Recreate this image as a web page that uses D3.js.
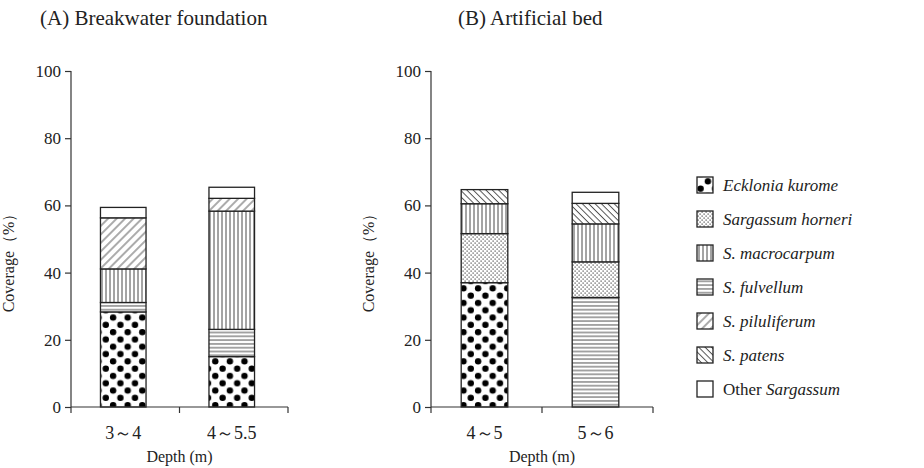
<!DOCTYPE html>
<html lang="en">
<head>
<meta charset="UTF-8">
<title>coverage by depth</title>
<script src="https://cdn.jsdelivr.net/npm/d3@7"></script>
<style>
    body { margin: 0; background: #fff; }
    text { font-family: "Liberation Serif", "DejaVu Serif", serif; fill: #222; }
    .axis path, .axis line { stroke: #333; stroke-width: 1.2; }
</style>
</head>
<body>
<svg id="chart" width="924" height="468"></svg>
<script>
    // legend names (legend order)
    let species = ["Ecklonia kurome", "Sargassum horneri", "S. macrocarpum", "S. fulvellum", "S. piluliferum", "S. patens", "Other"];
    let patternIds = ["dots", "stipple", "vert", "horiz", "fdiag", "bdiag", "blank"];
    // order in which segments stack from the bottom
    let stackOrder = ["Ecklonia kurome", "S. fulvellum", "Sargassum horneri", "S. macrocarpum", "S. piluliferum", "S. patens", "Other"];

    // panel A
    let depthA = ["3～4", "4～5.5"];
    let coverA = {
        "Ecklonia kurome": [28.3, 15.0],
        "Sargassum horneri": [0, 0],
        "S. macrocarpum": [10.0, 35.2],
        "S. fulvellum": [2.8, 8.1],
        "S. piluliferum": [15.2, 3.8],
        "S. patens": [0, 0],
        "Other": [3.1, 3.3]
    };
    // panel B
    let depthB = ["4～5", "5～6"];
    let coverB = {
        "Ecklonia kurome": [37.0, 0],
        "Sargassum horneri": [14.6, 10.6],
        "S. macrocarpum": [8.9, 11.3],
        "S. fulvellum": [0, 32.6],
        "S. piluliferum": [0, 0],
        "S. patens": [4.2, 6.1],
        "Other": [0, 3.3]
    };
    let yTicks = [0, 20, 40, 60, 80, 100];

    let svg = d3.select("#chart");
    let ink = "#222";
    let serif = '"Liberation Serif", "DejaVu Serif", serif';

    // hatch patterns
    let defs = svg.append("defs");
    let p = defs.append("pattern").attr("id", "dots").attr("patternUnits", "userSpaceOnUse")
        .attr("width", 14.6).attr("height", 14.6);
    p.append("rect").attr("width", 14.6).attr("height", 14.6).attr("fill", "#fff");
    [[3.6, 3.6], [10.9, 10.9], [-3.7, 10.9], [18.2, 3.6], [10.9, -3.7], [3.6, 18.2]].forEach(function (c) {
        p.append("circle").attr("cx", c[0]).attr("cy", c[1]).attr("r", 3.2).attr("fill", "#000");
    });

    p = defs.append("pattern").attr("id", "stipple").attr("patternUnits", "userSpaceOnUse")
        .attr("width", 4).attr("height", 4);
    p.append("rect").attr("width", 4).attr("height", 4).attr("fill", "#fff");
    p.append("rect").attr("x", 0.5).attr("y", 0.5).attr("width", 1.2).attr("height", 1.2).attr("fill", "#444");
    p.append("rect").attr("x", 2.5).attr("y", 2.5).attr("width", 1.2).attr("height", 1.2).attr("fill", "#444");

    p = defs.append("pattern").attr("id", "vert").attr("patternUnits", "userSpaceOnUse")
        .attr("width", 4).attr("height", 4);
    p.append("rect").attr("width", 4).attr("height", 4).attr("fill", "#fff");
    p.append("line").attr("x1", 2).attr("x2", 2).attr("y1", 0).attr("y2", 4).attr("stroke", "#333").attr("stroke-width", 0.9);

    p = defs.append("pattern").attr("id", "horiz").attr("patternUnits", "userSpaceOnUse")
        .attr("width", 4).attr("height", 3.8);
    p.append("rect").attr("width", 4).attr("height", 3.8).attr("fill", "#fff");
    p.append("line").attr("y1", 1.9).attr("y2", 1.9).attr("x1", 0).attr("x2", 4).attr("stroke", "#333").attr("stroke-width", 0.9);

    p = defs.append("pattern").attr("id", "fdiag").attr("patternUnits", "userSpaceOnUse")
        .attr("width", 6).attr("height", 6).attr("patternTransform", "rotate(45)");
    p.append("rect").attr("width", 6).attr("height", 6).attr("fill", "#fff");
    p.append("line").attr("x1", 3).attr("x2", 3).attr("y1", 0).attr("y2", 6).attr("stroke", "#444").attr("stroke-width", 0.9);

    p = defs.append("pattern").attr("id", "bdiag").attr("patternUnits", "userSpaceOnUse")
        .attr("width", 4.5).attr("height", 4.5).attr("patternTransform", "rotate(-45)");
    p.append("rect").attr("width", 4.5).attr("height", 4.5).attr("fill", "#fff");
    p.append("line").attr("x1", 2.2).attr("x2", 2.2).attr("y1", 0).attr("y2", 4.5).attr("stroke", "#444").attr("stroke-width", 0.9);

    function fillFor(name) {
        let i = species.indexOf(name);
        return patternIds[i] === "blank" ? "#fff" : "url(#" + patternIds[i] + ")";
    }

    function panel(depths, cover, x0, x1, title, titleX) {
        let x = d3.scaleBand().domain(depths).range([x0, x1]).padding(0);
        let y = d3.scaleLinear().domain([0, 100]).range([407, 71]);

        let g = svg.append("g");

        // stacked bars
        let rows = depths.map(function (d, i) {
            let r = { depth: d };
            stackOrder.forEach(function (k) { r[k] = cover[k][i]; });
            return r;
        });
        let series = d3.stack().keys(stackOrder)(rows);
        let bw = x.bandwidth() * 0.42;
        series.forEach(function (s) {
            g.selectAll(null)
                .data(s.filter(function (d) { return d[1] - d[0] > 0; }))
                .join("rect")
                .attr("x", function (d) { return x(d.data.depth) + x.bandwidth() / 2 - bw / 2 - 2; })
                .attr("width", bw)
                .attr("y", function (d) { return y(d[1]); })
                .attr("height", function (d) { return y(d[0]) - y(d[1]); })
                .attr("fill", fillFor(s.key))
                .attr("stroke", ink)
                .attr("stroke-width", 1.3);
        });

        // axes
        let ya = g.append("g").attr("class", "axis")
            .attr("transform", "translate(" + x0 + ",0)")
            .call(d3.axisLeft(y).tickValues(yTicks).tickSize(6).tickPadding(4).tickSizeOuter(0));
        ya.select(".domain").attr("d", "M0," + y(0) + "V" + y(100));
        ya.selectAll("text").style("font-family", serif).style("font-size", "17px").attr("fill", ink);

        let xa = g.append("g").attr("class", "axis")
            .attr("transform", "translate(0," + y(0) + ")");
        xa.append("line").attr("x1", x0).attr("x2", x1).attr("stroke", "#333").attr("stroke-width", 1.2);
        let edges = [x0].concat(depths.map(function (d) { return x(d) + x.bandwidth(); }));
        xa.selectAll(".tk").data(edges).join("line")
            .attr("x1", function (d) { return d; }).attr("x2", function (d) { return d; })
            .attr("y1", 0).attr("y2", 6).attr("stroke", "#333").attr("stroke-width", 1.2);
        xa.selectAll(".lb").data(depths).join("text")
            .attr("x", function (d) { return x(d) + x.bandwidth() / 2 - 2; })
            .attr("y", 32)
            .attr("text-anchor", "middle")
            .style("font-family", serif)
            .style("font-size", "18px")
            .text(function (d) { return d; });

        g.append("text")
            .attr("x", (x0 + x1) / 2)
            .attr("y", 462)
            .attr("text-anchor", "middle")
            .style("font-size", "16px")
            .text("Depth (m)");

        g.append("text")
            .attr("transform", "translate(" + (x0 - 57) + "," + ((y(0) + y(100)) / 2 + 20) + ") rotate(-90)")
            .attr("text-anchor", "middle")
            .style("font-size", "16px")
            .text("Coverage（%）");

        g.append("text")
            .attr("x", titleX)
            .attr("y", 25)
            .style("font-size", "21px")
            .text(title);
    }

    panel(depthA, coverA, 71, 288, "(A) Breakwater foundation", 40);
    panel(depthB, coverB, 431, 653, "(B) Artificial bed", 458);

    // legend
    let lg = svg.append("g").attr("transform", "translate(697,185)");
    let item = lg.selectAll("g").data(species).join("g")
        .attr("transform", function (d, i) { return "translate(0," + (i * 34) + ")"; });
    item.append("rect")
        .attr("x", 0).attr("y", -8).attr("width", 16).attr("height", 16)
        .attr("fill", function (d) { return fillFor(d); })
        .attr("stroke", ink).attr("stroke-width", 1.3);
    let lt = item.append("text").attr("x", 26).attr("y", 6).style("font-size", "17px");
    lt.each(function (d) {
        let t = d3.select(this);
        if (d === "Other") {
            t.append("tspan").text("Other ");
            t.append("tspan").style("font-style", "italic").text("Sargassum");
        } else {
            t.append("tspan").style("font-style", "italic").text(d);
        }
    });
</script>
</body>
</html>
